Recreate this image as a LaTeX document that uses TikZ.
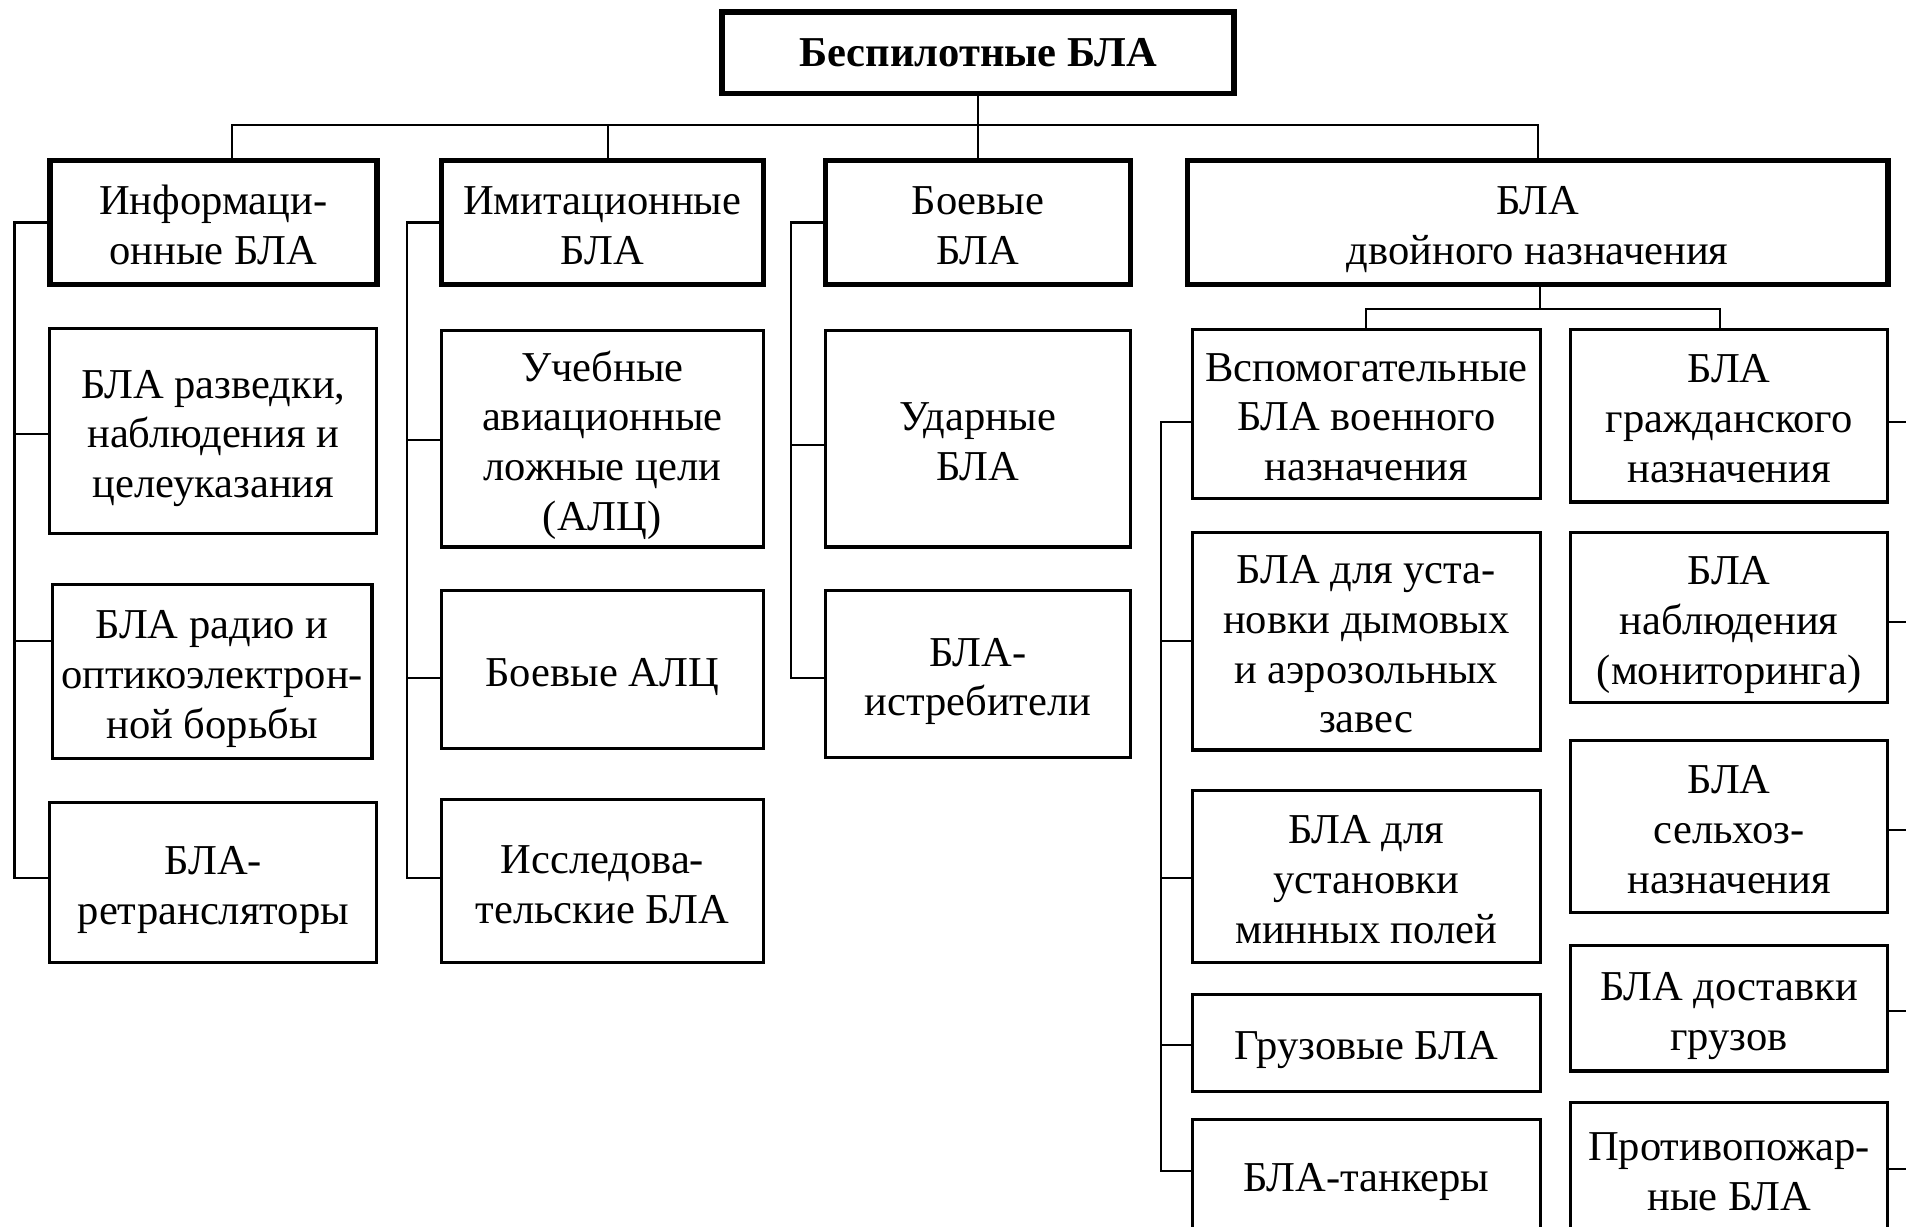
\documentclass[tikz,border=0pt]{standalone}
\usepackage{fontspec}
\setmainfont{Liberation Serif}
\begin{document}
\begin{tikzpicture}[x=1pt,y=-1pt,
  every node/.style={inner sep=0pt, outer sep=0pt, align=center,
    font=\fontsize{35}{41}\selectfont},
  one/.style={text height=36pt, text depth=8pt},
  two/.style={text height=77pt, text depth=8pt},
  three/.style={text height=118pt, text depth=8pt},
  four/.style={text height=159pt, text depth=8pt},
  topbox/.style={draw, line width=4.5pt, font=\fontsize{35}{41}\selectfont\bfseries},
  headbox/.style={draw, line width=4.5pt},
  childbox/.style={draw, line width=2.6pt},
  conn/.style={draw, line width=1.8pt},
]
\useasboundingbox (0,0) rectangle (1568,1009);
\fill[white] (0,0) rectangle (1568,1009);
\clip (0,0) rectangle (1568,1009);

% top
\node[topbox, minimum width=421, minimum height=67] (top) at (804.5,43.5) {Беспилотные БЛА};

% headers
\node[headbox, two, minimum width=269, minimum height=102] (H1) at (175.5,183) {Информаци-\\онные БЛА};
\node[headbox, two, minimum width=265, minimum height=102] (H2) at (495.5,183) {Имитационные\\БЛА};
\node[headbox, two, minimum width=251, minimum height=102] (H3) at (804.5,183) {Боевые\\БЛА};
\node[headbox, two, minimum width=576, minimum height=102] (H4) at (1265,183) {БЛА\\двойного назначения};

% column 1
\node[childbox, three, minimum width=269, minimum height=169] (C1a) at (175.5,354.5) {БЛА разведки,\\наблюдения и\\целеуказания};
\node[childbox, three, minimum width=263, minimum height=143] (C1b) at (174.5,552.5) {БЛА радио и\\оптикоэлектрон-\\ной борьбы};
\node[childbox, two, minimum width=269, minimum height=132] (C1c) at (175.5,726) {БЛА-\\ретрансляторы};

% column 2
\node[childbox, four, minimum width=265, minimum height=178] (C2a) at (495.5,361) {Учебные\\авиационные\\ложные цели\\(АЛЦ)};
\node[childbox, one, minimum width=265, minimum height=130] (C2b) at (495.5,551) {Боевые АЛЦ};
\node[childbox, two, minimum width=265, minimum height=134] (C2c) at (495.5,725) {Исследова-\\тельские БЛА};

% column 3
\node[childbox, two, minimum width=251, minimum height=178] (C3a) at (804.5,361) {Ударные\\БЛА};
\node[childbox, two, minimum width=251, minimum height=137] (C3b) at (804.5,554.5) {БЛА-\\истребители};

% dual purpose sub-headers
\node[childbox, three, minimum width=286, minimum height=139] (S1) at (1124,340.5) {Вспомогательные\\БЛА военного\\назначения};
\node[childbox, three, minimum width=261, minimum height=142] (S2) at (1422.5,342) {БЛА\\гражданского\\назначения};

% column 4
\node[childbox, four, minimum width=286, minimum height=179] (D1) at (1124,527.5) {БЛА для уста-\\новки дымовых\\и аэрозольных\\завес};
\node[childbox, three, minimum width=286, minimum height=142] (D2) at (1124,721) {БЛА для\\установки\\минных полей};
\node[childbox, one, minimum width=286, minimum height=80] (D3) at (1124,858) {Грузовые БЛА};
\node[childbox, one, minimum width=286, minimum height=90] (D4) at (1124,966) {БЛА-танкеры};

% column 5
\node[childbox, three, minimum width=261, minimum height=140] (E1) at (1422.5,508) {БЛА\\наблюдения\\(мониторинга)};
\node[childbox, three, minimum width=261, minimum height=142] (E2) at (1422.5,680) {БЛА\\сельхоз-\\назначения};
\node[childbox, two, minimum width=261, minimum height=103] (E3) at (1422.5,829.5) {БЛА доставки\\грузов};
\node[childbox, two, minimum width=261, minimum height=108] (E4) at (1422.5,961) {Противопожар-\\ные БЛА};

% top bus
\draw[conn] (top.south) -- (H3.north);
\draw[conn] (H1.north -| 191,0) |- (H4.north |- 0,103) -- (H4.north);
\draw[conn] (H2.north -| 500,0) -- (500,103);

% column 1 bracket
\draw[conn] (H1.west) -| (12,722) -- (C1c.west |- 0,722);
\draw[conn] (12,357) -- (C1a.west |- 0,357);
\draw[conn] (12,527) -- (C1b.west |- 0,527);

% column 2 bracket
\draw[conn] (H2.west) -| (335,722) -- (C2c.west |- 0,722);
\draw[conn] (335,362) -- (C2a.west |- 0,362);
\draw[conn] (335,558) -- (C2b.west |- 0,558);

% column 3 bracket
\draw[conn] (H3.west) -| (651,558) -- (C3b.west |- 0,558);
\draw[conn] (651,366) -- (C3a.west |- 0,366);

% dual purpose bus
\draw[conn] (H4.south -| 1267,0) -- (1267,254);
\draw[conn] (S1.north) |- (1415,254) -- (S2.north -| 1415,0);

% column 4 bracket
\draw[conn] (S1.west |- 0,347) -| (955,963) -- (D4.west |- 0,963);
\draw[conn] (955,527) -- (D1.west |- 0,527);
\draw[conn] (955,722) -- (D2.west |- 0,722);
\draw[conn] (955,860) -- (D3.west |- 0,860);

% column 5 stubs (run off the right edge)
\coordinate (R) at (1580,0);
\draw[conn] (S2.east |- 0,347) -- (R |- 0,347);
\draw[conn] (E1.east |- 0,512) -- (R |- 0,512);
\draw[conn] (E2.east |- 0,683) -- (R |- 0,683);
\draw[conn] (E3.east |- 0,832) -- (R |- 0,832);
\draw[conn] (E4.east |- 0,962) -- (R |- 0,962);
\end{tikzpicture}
\end{document}
